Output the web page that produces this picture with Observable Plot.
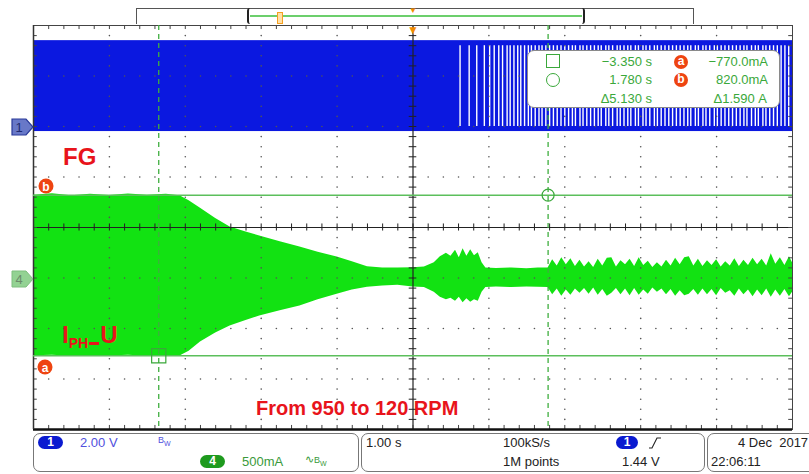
<!DOCTYPE html>
<html><head><meta charset="utf-8">
<script src="https://cdn.jsdelivr.net/npm/d3@7"></script>
<script src="https://cdn.jsdelivr.net/npm/@observablehq/plot@0.6"></script>
<style>
body{margin:0;background:#fff;font-family:"Liberation Sans",Arial,sans-serif;}
#wrap{position:relative;width:809px;height:474px;overflow:hidden;background:#fff;}
#wrap > svg{position:absolute;left:0;top:0;}
.abs{position:absolute;white-space:nowrap;}
.sbox{position:absolute;border:1.3px solid #777;border-radius:7px;box-sizing:border-box;}
.t13{font-size:13px;line-height:16px;}
.pill{position:absolute;height:13px;border-radius:7px;color:#fff;font-weight:bold;font-size:12px;line-height:13px;text-align:center;}
.rd{position:absolute;width:14px;height:14px;border-radius:50%;background:#ee4411;color:#fff;font-weight:bold;font-size:12px;line-height:13px;text-align:center;}
.ro{position:absolute;color:#3aa83a;font-size:13px;line-height:16px;white-space:nowrap;}
.lbl{position:absolute;color:#e8141b;font-weight:bold;white-space:nowrap;}
</style></head>
<body><div id="wrap"></div>
<script>
// ---- scope settings ----
const timeWindow = [-5, 5];          // s  (1.00 s/div, 10 div)
const ch1VoltsPerDiv = 2.0, ch1OffsetDiv = 2;
const ch4MilliampsPerDiv = 500, ch4OffsetDiv = -1;

// ---- CH1 : FG (square wave, levels in V) ----
const fgLevels = [-0.2, 3.4];
// times (s) where the FG trace shows white gaps (signal low long enough to be visible)
const fgGapTimes = [0.62, 0.74, 0.84, 0.94, 1.01, 1.07, 1.13, 1.18, 1.24, 1.28, 1.33, 1.38, 1.42, 1.47,
  1.52, 1.56, 1.61, 1.66, 1.70, 1.75, 1.80, 1.85, 1.90, 1.95, 2.00, 2.05, 2.10, 2.14, 2.20, 2.24,
  2.29, 2.34, 2.39, 2.44, 2.48, 2.54, 2.58, 2.63, 2.69, 2.73, 2.78, 2.83, 2.87, 2.93, 2.97, 3.03,
  3.07, 3.12, 3.18, 3.22, 3.27, 3.32, 3.37, 3.42, 3.47, 3.52, 3.57, 3.62, 3.66, 3.72, 3.76, 3.82,
  3.86, 3.91, 3.97, 4.01, 4.06, 4.11, 4.16, 4.21, 4.26, 4.31, 4.36, 4.40, 4.46, 4.51, 4.55, 4.61,
  4.65, 4.70, 4.75, 4.80, 4.85, 4.90, 4.95];

// ---- CH4 : I_PH_U envelope (mA) ----
const iphTime = [-5.00,-4.75,-4.50,-4.25,-4.00,-3.75,-3.50,-3.25,-3.07,-2.95,-2.80,-2.60,-2.41,-2.20,-2.02,-1.75,-1.49,-1.25,-1.00,-0.80,
  -0.60,-0.40,-0.20,0.00,0.15,0.28,0.36,0.44,0.50,0.56,0.61,0.66,0.71,0.76,0.81,0.86,0.91,0.96,1.10,1.30,
  1.50,1.65,1.78,1.84,1.90,1.96,2.02,2.08,2.14,2.20,2.26,2.32,2.38,2.44,2.50,2.56,2.62,2.68,2.74,2.80,
  2.86,2.92,2.98,3.04,3.10,3.16,3.22,3.28,3.34,3.40,3.46,3.52,3.58,3.64,3.70,3.76,3.82,3.88,3.94,4.00,
  4.06,4.12,4.18,4.24,4.30,4.36,4.42,4.48,4.54,4.60,4.66,4.72,4.78,4.84,4.90,4.96,5.00];
const iphHigh = [820,835,815,830,818,832,820,828,815,765,690,590,505,455,416,360,307,255,208,160,
  112,100,98,102,110,150,210,245,215,275,200,290,215,280,220,250,150,100,95,100,
  92,98,100,180,120,200,130,190,115,175,110,160,105,185,120,195,200,110,170,130,
  185,115,200,125,165,105,150,110,175,120,195,130,200,210,120,185,115,170,125,180,
  110,160,120,190,115,175,125,195,130,185,120,240,135,200,125,210,150];
const iphLow = [-770,-765,-775,-768,-772,-766,-774,-770,-772,-725,-634,-545,-475,-420,-376,-325,-277,-215,-160,-120,
  -92,-78,-72,-88,-95,-140,-190,-215,-200,-230,-190,-245,-205,-240,-215,-230,-140,-95,-90,-95,
  -88,-92,-95,-165,-110,-180,-120,-170,-110,-150,-105,-160,-100,-170,-115,-180,-150,-105,-165,-110,
  -175,-105,-170,-120,-160,-100,-140,-110,-165,-115,-180,-125,-175,-160,-115,-170,-110,-165,-115,-175,
  -105,-150,-125,-180,-110,-165,-120,-185,-120,-175,-110,-190,-120,-180,-115,-185,-140];

// ---- cursors ----
const cursorTimes = [-3.350, 1.780];      // s
const cursorCurrents = [-770, 820];       // mA

const div1 = v => v / ch1VoltsPerDiv + ch1OffsetDiv;
const div4 = mA => mA / ch4MilliampsPerDiv + ch4OffsetDiv;

const iphRows = iphTime.map((t, i) => ({t, hi: div4(iphHigh[i]), lo: div4(iphLow[i])}));

// graticule
const minorX = d3.range(-25, 26).map(i => i / 5);
const minorY = d3.range(-20, 21).map(i => i / 5);
const majX = d3.range(-4, 5).filter(v => v !== 0);
const majY = d3.range(-3, 4).filter(v => v !== 0);
const gridDots = [];
for (const x of majX) for (const y of minorY) if (Math.abs(y) < 4) gridDots.push({x, y});
for (const y of majY) for (const x of minorX) if (Math.abs(x) < 5 && !majX.includes(x)) gridDots.push({x, y});

const green = "#12e212";
const cursorGreen = "#5cbf5c";

const chart = Plot.plot({
  width: 809, height: 474,
  marginLeft: 33, marginRight: 17, marginTop: 25, marginBottom: 45,
  x: {domain: timeWindow, axis: null},
  y: {domain: [-4, 4], axis: null},
  style: {background: "transparent"},
  marks: [
    // CH1 FG
    Plot.rect([fgLevels], {x1: () => timeWindow[0], x2: () => timeWindow[1], y1: d => div1(d[0]), y2: d => div1(d[1]), fill: "#0b18e0"}),
    Plot.ruleX(fgGapTimes, {x: d => d, y1: () => div1(0), y2: () => div1(3.2), stroke: "#ffffff", strokeWidth: 1.4}),
    // CH4 phase current
    Plot.areaY(iphRows, {x: "t", y1: "lo", y2: "hi", fill: green}),
    // graticule
    Plot.dot(gridDots, {x: "x", y: "y", r: 0.8, fill: "#555", stroke: null}),
    Plot.ruleX([0], {stroke: "#222", strokeWidth: 1.2}),
    Plot.ruleY([0], {stroke: "#222", strokeWidth: 1.2}),
    Plot.ruleX(minorX, {x: d => d, y1: () => -0.07, y2: () => 0.07, stroke: "#222"}),
    Plot.ruleY(minorY, {y: d => d, x1: () => -0.05, x2: () => 0.05, stroke: "#222"}),
    Plot.ruleY(minorY, {y: d => d, x1: () => -5, x2: () => -4.95, stroke: "#444"}),
    Plot.ruleY(minorY, {y: d => d, x1: () => 4.95, x2: () => 5, stroke: "#444"}),
    Plot.ruleX(minorX, {x: d => d, y1: () => 3.92, y2: () => 4, stroke: "#444"}),
    Plot.ruleX(minorX, {x: d => d, y1: () => -4, y2: () => -3.92, stroke: "#444"}),
    Plot.frame({stroke: "#444"}),
    Plot.ruleY([-4], {stroke: "#111", strokeWidth: 2.5}),
    Plot.ruleX([-5], {stroke: "#333", strokeWidth: 1.5}),
    // cursors
    Plot.ruleY(cursorCurrents, {y: d => div4(d), stroke: cursorGreen, strokeWidth: 1.6}),
    Plot.ruleX(cursorTimes, {x: d => d, stroke: "#3fae3f", strokeWidth: 1.3, strokeDasharray: "5,4"}),
    Plot.dot([[cursorTimes[0], cursorCurrents[0]]], {x: d => d[0], y: d => div4(d[1]), symbol: "square", r: 8, stroke: "#3aa83a", strokeWidth: 1.2, fill: "none"}),
    Plot.dot([[cursorTimes[1], cursorCurrents[1]]], {x: d => d[0], y: d => div4(d[1]), symbol: "circle", r: 6, stroke: "#3aa83a", strokeWidth: 1.2, fill: "none"}),
    // trigger position
    Plot.text([0], {x: d => d, y: () => 4, text: () => "▼", fill: "#f28c00", fontSize: 12, dy: 5})
  ]
});
const wrap = document.getElementById("wrap");
wrap.appendChild(chart);

wrap.insertAdjacentHTML("beforeend", `
<div class="abs" style="left:136px;top:8px;width:558px;height:16px;border:1px solid #555;border-bottom:none;box-sizing:border-box;background:#fff"></div>
<div class="abs" style="left:247px;top:8px;width:338px;height:16px;border-left:2px solid #222;border-right:2px solid #222;border-radius:3px;box-sizing:border-box"></div>
<div class="abs" style="left:250px;top:15px;width:332px;height:2px;background:#6ccf6c"></div>
<div class="abs" style="left:277px;top:12px;width:4px;height:10px;border:1.5px solid #f5a020;background:#ffe0a8"></div>
<div class="abs" style="left:409px;top:6px;color:#f28c00;font-size:8px">▼</div>

<svg class="abs" style="left:0;top:0;overflow:visible" width="60" height="474">
  <path d="M12,119 H26 L33,127 L26,135 H12 Z" fill="#6878c8" stroke="#2a3a9a" stroke-width="1.2"/>
  <text x="19" y="132" font-size="13" font-family="Liberation Sans" fill="#1f2a70" text-anchor="middle">1</text>
  <path d="M12,271 H26 L33,279 L26,287 H12 Z" fill="#93d293" stroke="#7fbf7f" stroke-width="1"/>
  <text x="19" y="284" font-size="13" font-family="Liberation Sans" fill="#6b8b6b" text-anchor="middle">4</text>
  <circle cx="46" cy="186" r="7.5" fill="#ee4411"/>
  <text x="46" y="190.5" font-size="12" font-weight="bold" font-family="Liberation Sans" fill="#fff" text-anchor="middle">b</text>
  <circle cx="45" cy="367" r="7.5" fill="#ee4411"/>
  <text x="45" y="371.5" font-size="12" font-weight="bold" font-family="Liberation Sans" fill="#fff" text-anchor="middle">a</text>
</svg>

<div class="lbl" style="left:63px;top:144px;font-size:24px;line-height:26px">FG</div>
<div class="lbl" style="left:62px;top:322px;font-size:24px;line-height:26px">I<span style="font-size:14px;position:relative;top:5px">PH</span><span style="display:inline-block;width:10px;height:2px;border-bottom:3px solid #e8141b;position:relative;top:2px;margin:0 1px;color:transparent;font-size:2px;line-height:2px;overflow:hidden">_</span>U</div>
<div class="lbl" style="left:256px;top:396px;font-size:20px;line-height:24px">From 950 to 120 RPM</div>

<div class="abs" style="left:527px;top:50px;width:253px;height:58px;border:1px solid #8a8a8a;border-radius:7px;background:#fff;box-sizing:border-box"></div>
<div class="abs" style="left:546px;top:54px;width:14px;height:14px;border:1.5px solid #3aa83a;box-sizing:border-box"></div>
<div class="abs" style="left:546px;top:73px;width:14px;height:14px;border:1.5px solid #3aa83a;border-radius:50%;box-sizing:border-box"></div>
<div class="ro" style="right:157px;top:54px">−3.350 s</div>
<div class="ro" style="right:157px;top:72px">1.780 s</div>
<div class="ro" style="right:157px;top:91px">Δ5.130 s</div>
<div class="rd" style="left:674px;top:55px">a</div>
<div class="rd" style="left:674px;top:73px">b</div>
<div class="ro" style="right:41px;top:54px">−770.0mA</div>
<div class="ro" style="right:41px;top:72px">820.0mA</div>
<div class="ro" style="right:42px;top:91px">Δ1.590 A</div>

<div class="sbox" style="left:33px;top:433px;width:326px;height:39px"></div>
<div class="sbox" style="left:361px;top:433px;width:344px;height:39px"></div>
<div class="sbox" style="left:707px;top:433px;width:110px;height:39px"></div>

<div class="pill" style="left:38px;top:436px;width:25px;background:#0a1ad0">1</div>
<div class="abs t13" style="left:80px;top:435px;color:#5050dd">2.00 V</div>
<div class="abs" style="left:158px;top:435px;color:#5050dd;font-size:9px">B<sub style="font-size:7px">W</sub></div>
<div class="pill" style="left:200px;top:455px;width:25px;background:#1e9a1e">4</div>
<div class="abs t13" style="left:242px;top:454px;color:#3a9a3a">500mA</div>
<div class="abs" style="left:305px;top:453px;color:#3a9a3a;font-size:11px">∿<span style="font-size:9px">B<sub style="font-size:7px">W</sub></span></div>

<div class="abs t13" style="left:366px;top:435px;color:#222">1.00 s</div>
<div class="abs t13" style="left:503px;top:435px;color:#222">100kS/s</div>
<div class="abs t13" style="left:503px;top:454px;color:#222">1M points</div>
<div class="pill" style="left:616px;top:436px;width:22px;background:#0a1ad0">1</div>
<svg class="abs" style="left:648px;top:436px" width="16" height="14"><path d="M1,12 H4 L9,2 H13" fill="none" stroke="#222" stroke-width="1.1"/></svg>
<div class="abs t13" style="left:622px;top:454px;color:#222">1.44 V</div>

<div class="abs t13" style="left:738px;top:435px;color:#222">4 Dec&nbsp; 2017</div>
<div class="abs t13" style="left:711px;top:454px;color:#222">22:06:11</div>
`);
</script></body></html>
